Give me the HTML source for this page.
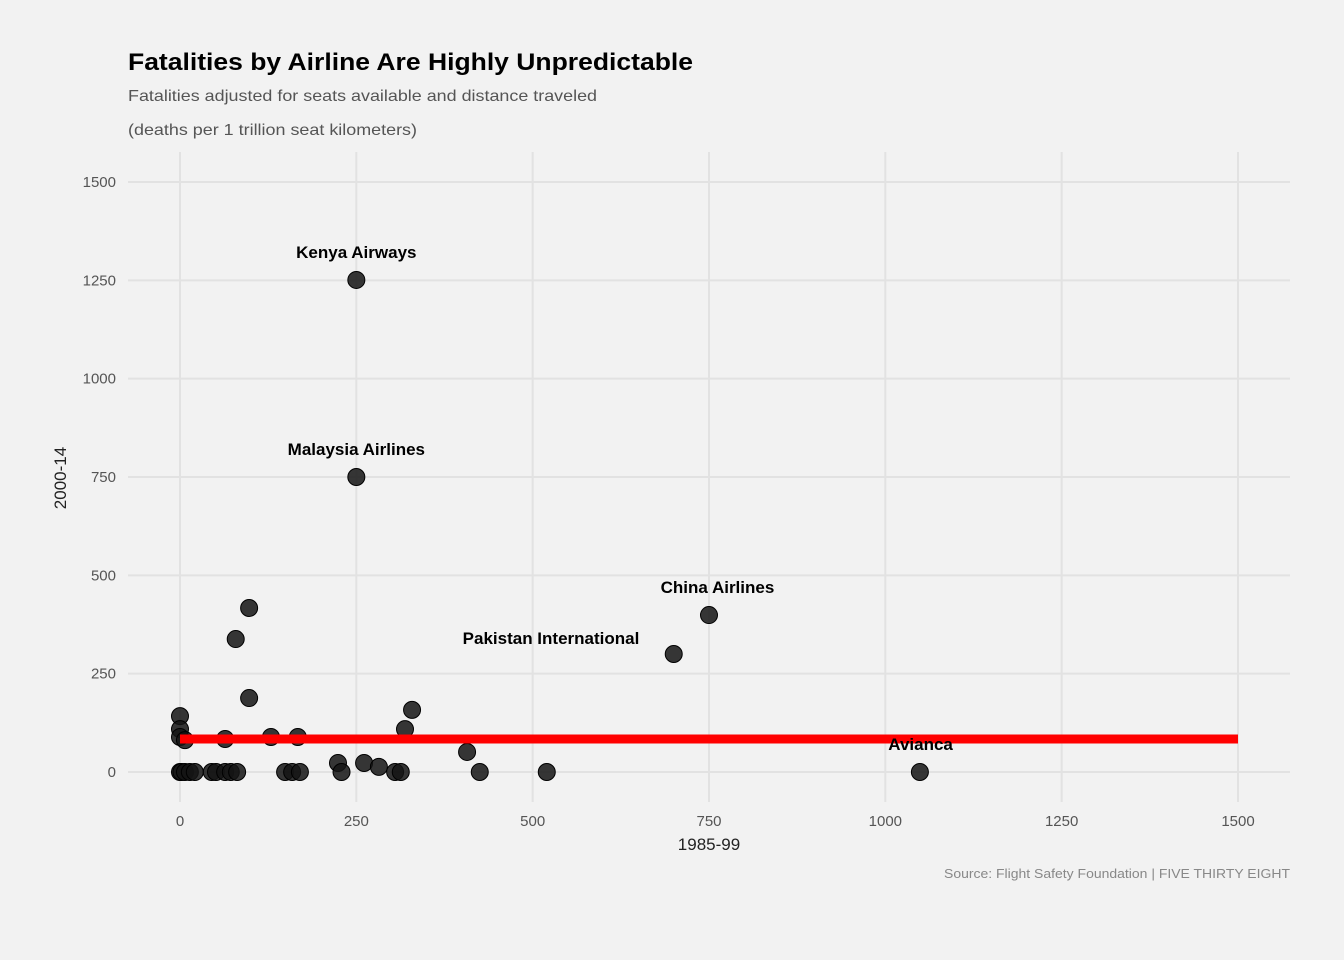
<!DOCTYPE html>
<html><head><meta charset="utf-8"><style>
html,body{margin:0;padding:0;background:#f2f2f2;}
svg{display:block;font-family:"Liberation Sans",sans-serif;}
</style></head><body>
<svg id="chart" width="1344" height="960" viewBox="0 0 1344 960">
<rect width="1344" height="960" fill="#f2f2f2"/>
<text x="128" y="70" font-size="24" font-weight="bold" fill="#000" textLength="565" lengthAdjust="spacingAndGlyphs">Fatalities by Airline Are Highly Unpredictable</text>
<text x="128" y="101" font-size="16" fill="#555" textLength="469" lengthAdjust="spacingAndGlyphs">Fatalities adjusted for seats available and distance traveled</text>
<text x="128" y="135" font-size="16" fill="#555" textLength="289" lengthAdjust="spacingAndGlyphs">(deaths per 1 trillion seat kilometers)</text>
<g id="grid"></g><g id="marks"></g><g id="labels"></g>
<text x="709" y="850" font-size="17" fill="#222" text-anchor="middle">1985-99</text>
<text transform="translate(66,478) rotate(-90)" font-size="17" fill="#222" text-anchor="middle">2000-14</text>
<text x="1290" y="878" font-size="13" fill="#888" text-anchor="end" textLength="346" lengthAdjust="spacingAndGlyphs">Source: Flight Safety Foundation | FIVE THIRTY EIGHT</text>
</svg>
<script>
const xTicks=[0,250,500,750,1000,1250,1500];
const yTicks=[0,250,500,750,1000,1250,1500];
const xVals=[98,79,98,0,0,0,7,64,129,167,329,319,407,224,261,282,750,700,250,250,1049,0,2,7,14,21,45,51,64,72,81,149,159,170,229,305,313,425,520];
const yVals=[417,338,188,142,109,89,81,84,89,89,158,109,51,23,23,13,399,300,1251,750,0,0,0,0,0,0,0,0,0,0,0,0,0,0,0,0,0,0,0];
const annNames=["Kenya Airways","Malaysia Airlines","China Airlines","Pakistan International","Avianca"];
const annX=[250,250,762,526,1050];
const annY=[1251,750,399,300,0];
const meanLine=[84];
const X=v=>180+v*(1238-180)/1500, Y=v=>772-v*(772-182)/1500;
const ns="http://www.w3.org/2000/svg";
function mk(t,a,p){const e=document.createElementNS(ns,t);for(const k in a)e.setAttribute(k,a[k]);p.appendChild(e);return e;}
const grid=document.getElementById('grid'),marks=document.getElementById('marks'),labels=document.getElementById('labels');
xTicks.forEach(t=>{
 const l=mk('line',{x1:X(t),x2:X(t),y1:152,y2:802,stroke:'#e2e2e2','stroke-width':2},grid);
 
 
 const tx=mk('text',{x:X(t),y:826,'font-size':15,fill:'#555','text-anchor':'middle'},grid);tx.textContent=t;
 
 
});
yTicks.forEach(t=>{
 const l=mk('line',{x1:128,x2:1290,y1:Y(t),y2:Y(t),stroke:'#e2e2e2','stroke-width':2},grid);
 
 
 const tx=mk('text',{x:116,y:Y(t)+5,'font-size':15,fill:'#555','text-anchor':'end'},grid);tx.textContent=t;
 
 
});
xVals.forEach((v,i)=>{
 const c=mk('circle',{cx:X(v),cy:Y(yVals[i]),r:8.5,fill:'rgba(20,20,20,0.85)',stroke:'#000','stroke-width':1},marks);
 
 
});
const ml=mk('line',{x1:X(0),x2:X(1500),y1:Y(meanLine[0]),y2:Y(meanLine[0]),stroke:'#ff0000','stroke-width':9},marks);


annNames.forEach((n,i)=>{
 const dy = n==="Pakistan International" ? 10 : 22;
 const t=mk('text',{x:X(annX[i]),y:Y(annY[i])-dy,'font-size':17,'font-weight':'bold',fill:'#000','text-anchor':'middle'},labels);t.textContent=n;
 
 
});
</script>
</body></html>
